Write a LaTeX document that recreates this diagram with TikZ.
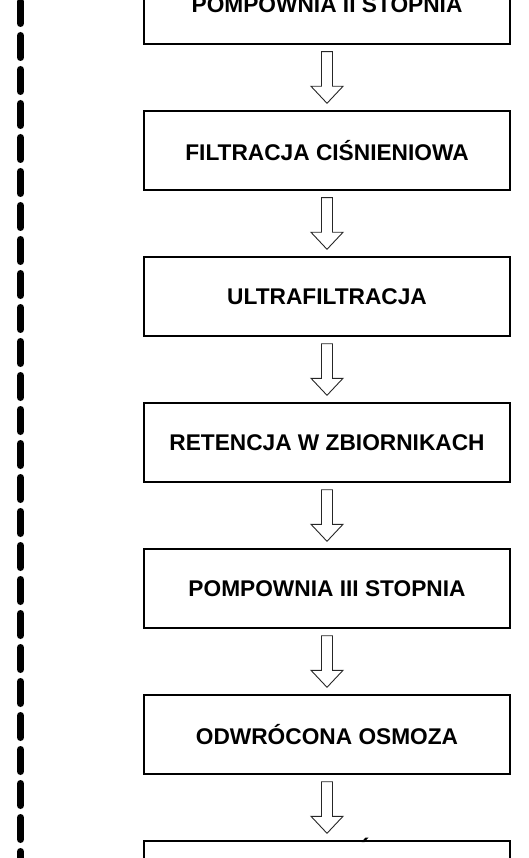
\documentclass[tikz,border=0pt]{standalone}
\usepackage{fontspec}
\setmainfont{Liberation Sans}
\usetikzlibrary{calc}

\newcommand{\flowarrow}[2]{%
\draw [hollow] ($(#1.south)+(-5.5,-7)$) -- ($(#1.south)+(5.5,-7)$) -- ($(#2.north)+(5.5,24)$) -- ($(#2.north)+(16,24)$) -- ($(#2.north)+(0,7)$) -- ($(#2.north)+(-16,24)$) -- ($(#2.north)+(-5.5,24)$) -- cycle;}

\begin{document}
\begin{tikzpicture}[x=1pt,y=1pt,
  stage/.style={draw=black,line width=1.4pt,minimum width=366pt,minimum height=79pt,inner sep=0pt,font=\fontsize{22.7}{26}\selectfont\bfseries},
  hollow/.style={draw=black!85,line width=0.9pt,fill=white}]
\useasboundingbox (0,0) rectangle (529,-858);
\draw [line width=7pt,line cap=round,dash pattern=on 22pt off 12pt] (20.5,-1.5) -- (20.5,-870);
\node [stage] (pompa2) at (327,-4.5) {POMPOWNIA II STOPNIA};
\node [stage] (filtr) at (327,-150.5) {FILTRACJA CIŚNIENIOWA};
\node [stage] (ultra) at (327,-296.5) {ULTRAFILTRACJA};
\node [stage] (reten) at (327,-442.5) {RETENCJA W ZBIORNIKACH};
\node [stage] (pompa3) at (327,-588.5) {POMPOWNIA III STOPNIA};
\node [stage] (osmoza) at (327,-734.5) {ODWRÓCONA OSMOZA};
\node [stage] (koniec) at (327,-880.5) {};
% akcent nad ostatnim blokiem
\fill [black] (361.5,-842) -- (364.5,-842) -- (368.5,-837.5) -- (365.5,-837.5) -- cycle;
\flowarrow{pompa2}{filtr}
\flowarrow{filtr}{ultra}
\flowarrow{ultra}{reten}
\flowarrow{reten}{pompa3}
\flowarrow{pompa3}{osmoza}
\flowarrow{osmoza}{koniec}
\end{tikzpicture}
\end{document}
